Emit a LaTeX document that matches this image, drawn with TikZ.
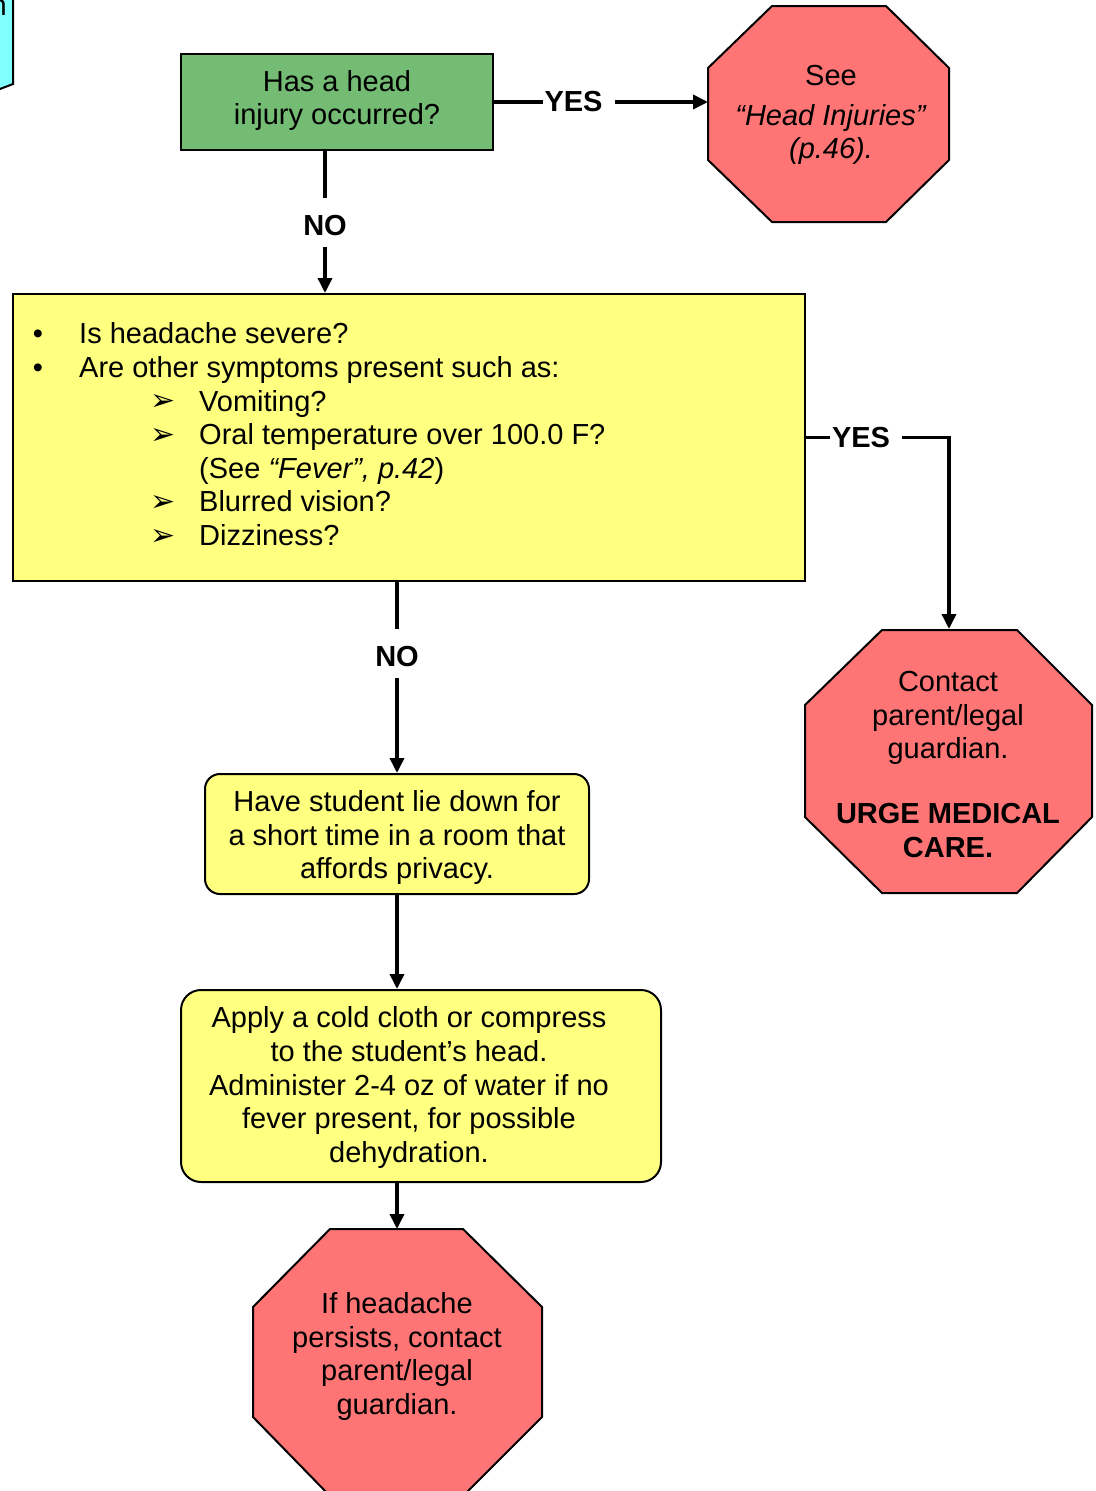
\documentclass[tikz,border=0pt]{standalone}
\usepackage{fontspec}
\setmainfont{Liberation Sans}
\newfontfamily\dvsans{DejaVu Sans}
\usetikzlibrary{arrows.meta}
\definecolor{grn}{RGB}{116,187,116}
\definecolor{yel}{RGB}{255,255,128}
\definecolor{stopred}{RGB}{255,117,117}
\definecolor{cyn}{RGB}{128,255,255}
\begin{document}
\begin{tikzpicture}[x=1pt,y=-1pt,
  txt/.style={font=\fontsize{29}{33.7}\selectfont, align=center, inner sep=0pt},
  ltxt/.style={font=\fontsize{29}{33.7}\selectfont, inner sep=0pt, anchor=base west},
  bul/.style={font=\fontsize{29}{33.7}\selectfont, inner sep=0pt, anchor=base},
  abul/.style={font=\dvsans\fontsize{30}{34}\selectfont, inner sep=0pt, anchor=base},
  lblh/.style={font=\fontsize{29}{33.7}\selectfont\bfseries, fill=white, inner xsep=2pt, inner ysep=3pt},
  lblv/.style={font=\fontsize{29}{33.7}\selectfont\bfseries, fill=white, inner xsep=3pt, inner ysep=11pt, text height=27pt, text depth=0pt},
  conn/.style={line width=3.5pt, line join=miter, -{Triangle[length=15pt,width=14pt]}},
  outl/.style={line width=2pt, draw=black, line join=miter},
  boxq/.style={outl, inner sep=0pt},
]
\useasboundingbox (0,0) rectangle (1095,1491);

% partially visible cyan shape at top-left
\draw[outl, fill=cyn] (-30,-10) -- (13,-10) -- (13,84) -- (-30,100.5);
\node[ltxt, anchor=base east] (cyantext) at (7,15) {n};

% green question box
\node[boxq, fill=grn, minimum width=312pt, minimum height=96pt] (q1) at (337,102) {};
\node[txt] (q1t) at (337,100.5) {Has a head\\injury occurred?};

% octagon 1
\draw[outl, fill=stopred] (772,6) -- (886,6) -- (949,68) -- (949,160) -- (886,222) -- (772,222) -- (708,160) -- (708,68) -- cycle;
\coordinate (o1w) at (708,102);
\node[txt] (o1t) at (831,115) {See\\[6pt]\textit{“Head Injuries”}\\\textit{(p.46).}};

% yellow symptom box
\node[boxq, fill=yel, minimum width=792pt, minimum height=287pt] (q2) at (409,437.5) {};
\node[bul] (b1) at (38,343) {•};
\node[ltxt] (l1) at (79,343) {Is headache severe?};
\node[bul] (b2) at (38,377) {•};
\node[ltxt] (l2) at (79,377) {Are other symptoms present such as:};
\node[abul] (a1) at (163,410) {➢};
\node[ltxt] (l3) at (199,411) {Vomiting?};
\node[abul] (a2) at (163,444) {➢};
\node[ltxt] (l4) at (199,444) {Oral temperature over 100.0 F?};
\node[ltxt] (l5) at (199,478) {(See \textit{“Fever”, p.42})};
\node[abul] (a3) at (163,511) {➢};
\node[ltxt] (l6) at (199,511) {Blurred vision?};
\node[abul] (a4) at (163,545) {➢};
\node[ltxt] (l7) at (199,545) {Dizziness?};

% octagon 2
\draw[outl, fill=stopred] (882,630) -- (1017,630) -- (1092,705) -- (1092,817) -- (1017,893) -- (882,893) -- (805,817) -- (805,705) -- cycle;
\coordinate (o2n) at (949,629);
\node[txt] (o2t) at (948,764.5) {Contact\\parent/legal\\guardian.\\[31pt]\textbf{URGE MEDICAL}\\\textbf{CARE.}};

% box: lie down
\node[boxq, fill=yel, rounded corners=15pt, minimum width=384pt, minimum height=120pt] (q3) at (397,834) {};
\node[txt] (q3t) at (397,837.5) {Have student lie down for\\a short time in a room that\\affords privacy.};

% box: cold cloth
\node[boxq, fill=yel, rounded corners=20pt, minimum width=480pt, minimum height=192pt] (q4) at (421,1086) {};
\node[txt] (q4t) at (409,1087.5) {Apply a cold cloth or compress\\to the student’s head.\\Administer 2-4 oz of water if no\\fever present, for possible\\dehydration.};

% octagon 3
\draw[outl, fill=stopred] (330,1229) -- (463,1229) -- (542,1307) -- (542,1417) -- (463,1496) -- (330,1496) -- (253,1417) -- (253,1307) -- cycle;
\coordinate (o3n) at (397,1229);
\node[txt] (o3t) at (397,1356.5) {If headache\\persists, contact\\parent/legal\\guardian.};

% connectors
\draw[conn] (q1.east) -- node[lblh, pos=0.395] {YES\rule{10pt}{0pt}} (o1w);
\draw[conn] ([xshift=-12pt]q1.south) -- node[lblv, pos=0.5] {NO} ([xshift=-84pt]q2.north);
\draw[conn] (q2.east) -| node[lblh, pos=0.21] {YES\rule{10pt}{0pt}} (o2n);
\draw[conn] ([xshift=-12pt]q2.south) -- node[lblv, pos=0.374] {NO} (q3.north);
\draw[conn] (q3.south) -- ([xshift=-24pt]q4.north);
\draw[conn] ([xshift=-24pt]q4.south) -- (o3n);
\end{tikzpicture}
\end{document}
